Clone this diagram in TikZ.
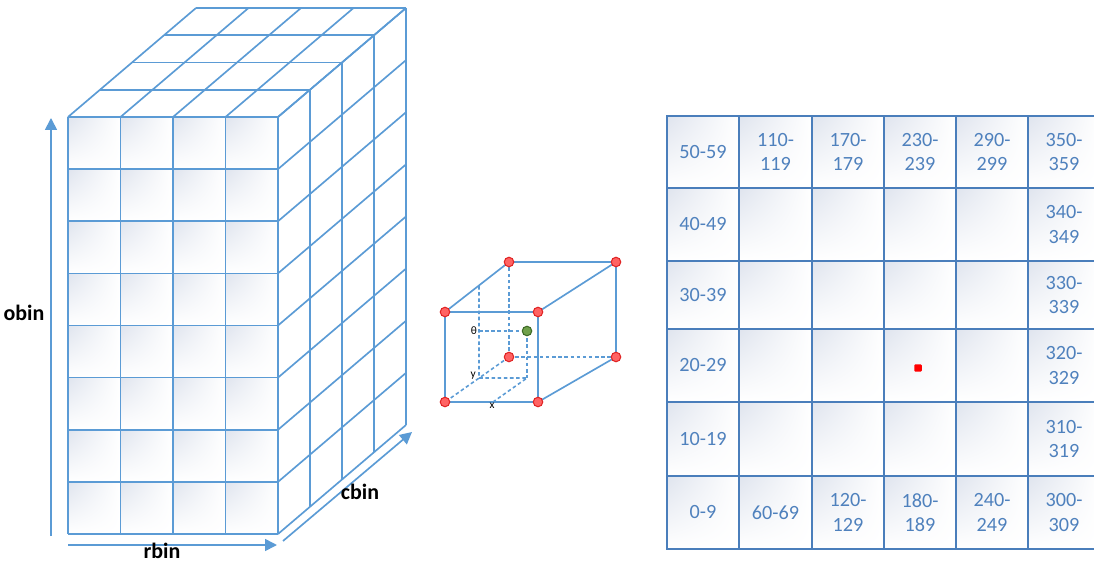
\documentclass[tikz,border=0pt]{standalone}
\usepackage{fontspec}
\setmainfont{Carlito}
\usetikzlibrary{arrows.meta,shadings}
\definecolor{CubeBlue}{HTML}{5B9BD5}
\definecolor{GridBlue}{HTML}{4A7EBB}
\definecolor{LabelBlue}{HTML}{4F81BD}
\definecolor{CellShade}{HTML}{DFE4EE}
\definecolor{PinRed}{HTML}{FF6363}
\definecolor{PinEdge}{HTML}{E02424}
\definecolor{PinGreen}{HTML}{6FA04A}
\definecolor{PinGreenEdge}{HTML}{3E6A26}

\tikzset{
  binline/.style={draw=CubeBlue, line width=0.95pt},
  hidden/.style={draw=CubeBlue, line width=0.9pt, dash pattern=on 2pt off 1.5pt},
  binarrow/.style={draw=CubeBlue, line width=0.95pt, -{Triangle[length=2.4mm,width=2.4mm]}},
  axislabel/.style={font=\fontsize{12.5}{14}\selectfont\bfseries},
  corner/.style={circle, inner sep=0pt, minimum size=0.19cm, fill=PinRed, draw=PinEdge, line width=0.6pt},
  binlab/.style={align=center, text=LabelBlue, font=\fontsize{11.5}{14}\selectfont},
  cubelab/.style={font=\fontsize{6.5}{7}\selectfont, inner sep=1pt},
  cellshade/.style={upper left=CellShade, upper right=white, lower left=white, lower right=white},
}

\begin{document}
\begin{tikzpicture}[x=0.02cm, y=-0.02cm]
  \useasboundingbox (0,0) rectangle (1094,563);
  \clip (0,0) rectangle (1094,563);

  % big cube: front cells
  \foreach \c in {0,...,3}
    \foreach \r in {0,...,7}
      \shade[cellshade] (68+52.5*\c,117+52.125*\r) rectangle ++(52.5,52.125);
  \foreach \c in {0,...,4}
    \draw[binline] (68+52.5*\c,117) -- ++(0,417);
  \foreach \r in {0,...,8}
    \draw[binline] (68,117+52.125*\r) -- ++(210,0);
  % top face
  \foreach \c in {0,...,4}
    \draw[binline] (68+52.5*\c,117) -- ++(128,-109);
  \foreach \k in {1,...,4}
    \draw[binline] (68+32*\k,117-27.25*\k) -- ++(210,0);
  % side face
  \foreach \r in {0,...,8}
    \draw[binline] (278,117+52.125*\r) -- ++(128,-109);
  \foreach \k in {1,...,4}
    \draw[binline] (278+32*\k,117-27.25*\k) -- ++(0,417);

  % axes of the bins
  \coordinate (obin-from) at (51,536);
  \coordinate (obin-to) at (51,118);
  \coordinate (rbin-from) at (68,545);
  \coordinate (rbin-to) at (277,545);
  \coordinate (cbin-from) at (283,541);
  \coordinate (cbin-to) at (412,432);
  \draw[binarrow] (obin-from) -- (obin-to);
  \draw[binarrow] (rbin-from) -- (rbin-to);
  \draw[binarrow] (cbin-from) -- (cbin-to);
  \node[axislabel] (obin) at (24,313) {obin};
  \node[axislabel] (rbin) at (162,551) {rbin};
  \node[axislabel] (cbin) at (360,492) {cbin};

  % small cube
  \coordinate (ftl) at (445,312);
  \coordinate (ftr) at (538,312);
  \coordinate (fbl) at (445,402);
  \coordinate (fbr) at (538,402);
  \coordinate (btl) at (509,262);
  \coordinate (btr) at (616,262);
  \coordinate (bbl) at (509,357);
  \coordinate (bbr) at (616,357);
  \coordinate (ptop) at (479,286);
  \coordinate (pth) at (479,331);
  \coordinate (py) at (479,378);
  \coordinate (pxy) at (527,378);
  \coordinate (px) at (493,402);
  \draw[hidden] (bbl) -- (btl);
  \draw[hidden] (bbl) -- (bbr);
  \draw[hidden] (bbl) -- (fbl);
  \draw[hidden] (ptop) -- (py) -- (pxy) -- (px);
  \draw[hidden] (pth) -- (527,331) -- (pxy);
  \draw[binline] (ftl) -- (ftr) -- (fbr) -- (fbl) -- cycle;
  \draw[binline] (ftl) -- (btl) -- (btr) -- (ftr);
  \draw[binline] (btr) -- (bbr) -- (fbr);
  \foreach \p in {ftl,ftr,fbl,fbr,btl,btr,bbl,bbr}
    \node[corner] (pin-\p) at (\p) {};
  \node[corner, fill=PinGreen, draw=PinGreenEdge] (pt) at (527,331) {};
  \node[cubelab, anchor=east] (lab-th) at (pth) {θ};
  \node[cubelab, anchor=east] (lab-y) at (478,376) {y};
  \node[cubelab, anchor=north] (lab-x) at (492,401) {x};

  % angle bins
  \foreach \xa/\xb in {667/739,739/812,812/884,884/956,956/1028,1028/1100}
    \foreach \ya/\yb in {116/188,188/261,261/329,329/402,402/476,476/549} {
      \shade[cellshade] (\xa,\ya) rectangle (\xb,\yb);
      \draw[draw=GridBlue, line width=1.25pt] (\xa,\ya) rectangle (\xb,\yb);
    }
  \foreach \n/\x/\y/\t in {
      a50/703/152/{50-59}, a40/703/224.5/{40-49}, a30/703/295/{30-39},
      a20/703/365.5/{20-29}, a10/703/439/{10-19}, a0/703/512.5/{0-9},
      a110/775.5/152/{110-\\119}, a170/848/152/{170-\\179}, a230/920/152/{230-\\239},
      a290/992/152/{290-\\299}, a350/1064/152/{350-\\359},
      a340/1064/224.5/{340-\\349}, a330/1064/295/{330-\\339},
      a320/1064/365.5/{320-\\329}, a310/1064/439/{310-\\319},
      a60/775.5/512.5/{60-69}, a120/848/512.5/{120-\\129}, a180/920/512.5/{180-\\189},
      a240/992/512.5/{240-\\249}, a300/1064/512.5/{300-\\309}}
    \node[binlab] (\n) at (\x,\y) {\t};
  \node[fill=red, minimum size=0.15cm, inner sep=0pt, rounded corners=0.6pt] (dot) at (918,368) {};
\end{tikzpicture}
\end{document}
